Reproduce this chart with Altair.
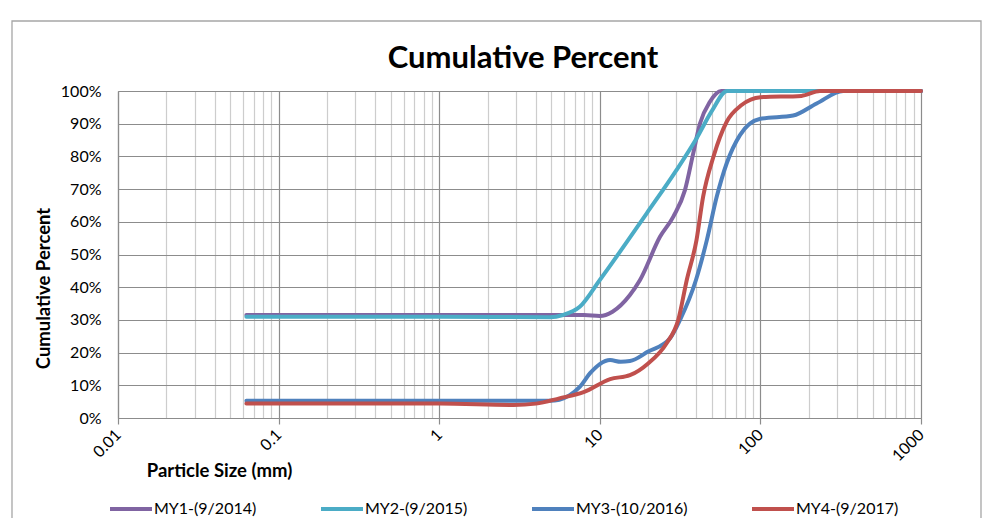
import altair as alt
import pandas as pd

series_names = ["MY1-(9/2014)", "MY2-(9/2015)", "MY3-(10/2016)", "MY4-(9/2017)"]
series_colors = ["#8064A2", "#4BACC6", "#4F81BD", "#C0504D"]
chart_title = "Cumulative Percent"

my1_size = [0.063, 1, 5, 8, 10, 12, 15.4, 17.8, 23.7, 28.7, 33.9, 38.2, 42, 48.5, 57, 100, 1000]
my1_pct = [31.5, 31.5, 31.5, 31.5, 31.2, 32.5, 37.6, 42.2, 55.4, 61.6, 69.7, 81, 90, 96.7, 100, 100, 100]

my2_size = [0.063, 1, 4.9, 5.9, 7.5, 10, 19.6, 30, 40, 50, 62, 100, 1000]
my2_pct = [31, 31, 30.8, 31.5, 34, 42.2, 62.6, 75.8, 85.5, 94, 100, 100, 100]

my3_size = [0.063, 1, 4.9, 5.6, 6.5, 7.5, 8.7, 10, 11.6, 13.5, 15.4, 20, 27.4, 31.6, 39.7, 46.4, 53.5, 61.7, 74.6, 100, 160, 224, 328, 1000]
my3_pct = [5.3, 5.3, 5.3, 5.6, 7, 9.5, 13.7, 16.5, 17.7, 17.2, 17.4, 20.3, 24.4, 30, 42.2, 54.4, 67.7, 77.9, 86.5, 91.5, 92.5, 96.2, 100, 100]

my4_size = [0.063, 1, 2.9, 4, 5.6, 8, 11.6, 15.4, 20, 26, 30.8, 34.8, 40, 44, 51, 61.7, 76.4, 100, 180, 235, 1000]
my4_pct = [4.4, 4.4, 4.0, 4.4, 6, 8, 11.9, 13.1, 16.7, 22.8, 30, 42.2, 54.4, 67.7, 79.9, 90.6, 95.7, 98.1, 98.5, 100, 100]

x_major = [0.01, 0.1, 1, 10, 100, 1000]
y_ticks = [0, 10, 20, 30, 40, 50, 60, 70, 80, 90, 100]

rows = []
for name, xs, ys in zip(series_names,
                        [my1_size, my2_size, my3_size, my4_size],
                        [my1_pct, my2_pct, my3_pct, my4_pct]):
    for i, (a, b) in enumerate(zip(xs, ys)):
        rows.append({"series": name, "size": a, "pct": b, "order": i})
df = pd.DataFrame(rows)

grid_vals = [round(m * k, 6) for m in x_major[:-1] for k in range(1, 10)] + [1000]
major_test = "indexof([0.01,0.1,1,10,100,1000], datum.value) >= 0"

FONT = "Lato"
MAJOR = "#8c8c8c"
MINOR = "#cdcdcd"

x_enc = alt.X(
    "size:Q",
    scale=alt.Scale(type="log", domain=[0.01, 1000], nice=False),
    axis=alt.Axis(
        values=grid_vals,
        format="~g",
        labelExpr=major_test + " ? datum.label : ''",
        labelAngle=-45,
        labelAlign="right",
        labelBaseline="middle",
        labelPadding=8,
        labelOverlap=False,
        labelFlush=False,
        labelFont=FONT,
        labelFontSize=16,
        labelColor="#000000",
        gridColor={"condition": {"test": major_test, "value": MAJOR}, "value": MINOR},
        gridWidth=1.2,
        tickColor={"condition": {"test": major_test, "value": MAJOR}, "value": "transparent"},
        tickSize=6,
        tickWidth=1.2,
        domainColor=MAJOR,
        domainWidth=1.2,
        title="Particle Size (mm)",
        titleFont=FONT,
        titleFontSize=18.5,
        titleFontWeight="bold",
        titleColor="#000000",
        titleX=101,
        titleY=52,
        titleAlign="center",
        titleBaseline="middle",
    ),
)

y_enc = alt.Y(
    "pct:Q",
    scale=alt.Scale(domain=[0, 100], nice=False),
    axis=alt.Axis(
        values=y_ticks,
        labelExpr="datum.value + '%'",
        ticks=False,
        labelPadding=17,
        labelFont=FONT,
        labelFontSize=16,
        labelColor="#000000",
        gridColor=MAJOR,
        gridWidth=1.2,
        domainColor=MAJOR,
        domainWidth=1.2,
        title="Cumulative Percent",
        titleFont=FONT,
        titleFontSize=18.5,
        titleFontWeight="bold",
        titleColor="#000000",
        titleX=-75,
        titleY=197,
        titleAlign="center",
        titleBaseline="middle",
        titleAngle=-90,
    ),
)

lines = alt.Chart(df).mark_line(
    interpolate="monotone", strokeWidth=4, strokeCap="round", strokeJoin="round"
).encode(
    x=x_enc,
    y=y_enc,
    color=alt.Color(
        "series:N",
        scale=alt.Scale(domain=series_names, range=series_colors),
        sort=series_names,
        legend=alt.Legend(
            orient="none",
            legendX=-10,
            legendY=395,
            direction="horizontal",
            columns=4,
            symbolType="stroke",
            symbolSize=1764,
            symbolStrokeWidth=4,
            labelFont=FONT,
            labelFontSize=16,
            labelColor="#000000",
            labelOffset=0,
            columnPadding=56,
            padding=0,
            title=None,
        ),
    ),
    order=alt.Order("order:Q"),
)

one_row = pd.DataFrame({"t": [chart_title]})
frame = alt.Chart(one_row).mark_rect(
    fill="transparent", stroke="#a6a6a6", strokeWidth=1.3
).encode(
    x=alt.value(-106), x2=alt.value(863), y=alt.value(-70), y2=alt.value(700)
)

title_mark = alt.Chart(one_row).mark_text(
    font=FONT, fontSize=31, fontWeight="bold", color="#000000",
    align="center", baseline="middle"
).encode(
    text="t:N", x=alt.value(405), y=alt.value(-32)
)

chart = alt.layer(frame, lines, title_mark).properties(
    width=803,
    height=327,
    autosize=alt.AutoSizeParams(type="none"),
    padding={"left": 110, "top": 83, "right": 77, "bottom": 100},
).configure_view(stroke=None).configure(background="white")

chart.save("out.html", embed_options={"renderer": "svg", "actions": False})
